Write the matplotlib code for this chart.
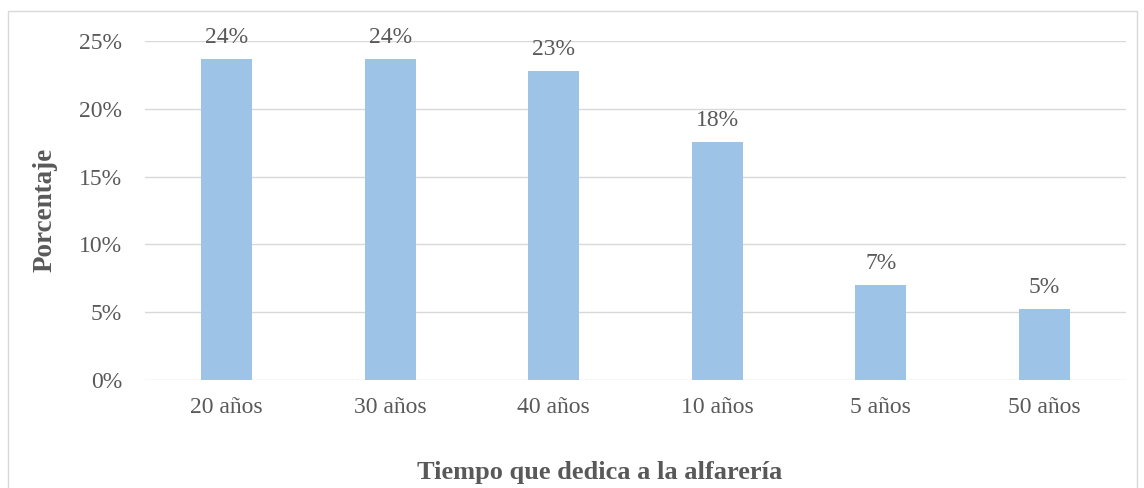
import matplotlib
matplotlib.use("Agg")
import matplotlib.pyplot as plt
from matplotlib.patches import Rectangle
from matplotlib.ticker import FuncFormatter

categories = ["20 años", "30 años", "40 años", "10 años", "5 años", "50 años"]
values = [0.2368, 0.2368, 0.2281, 0.1754, 0.0702, 0.0526]
labels = ["24%", "24%", "23%", "18%", "7%", "5%"]

plt.rcParams['font.family'] = ['Liberation Serif', 'DejaVu Serif']
txt = '#595959'

fig = plt.figure(figsize=(11.44, 4.88), dpi=100)
fig.patches.append(Rectangle((8/1144, -0.1), (1137-8)/1144, 1.1 - 11/488,
                             transform=fig.transFigure, fill=False,
                             edgecolor='#D9D9D9', linewidth=1.0))
ax = fig.add_axes([145/1144, (488-380)/488, (1126-145)/1144, (380-41)/488])
x = range(len(categories))
ax.bar(x, values, width=0.31, color='#9DC3E6', zorder=2)
ax.set_xlim(-0.5, len(categories) - 0.5)
ax.set_ylim(0, 0.25)
ax.set_yticks([0, 0.05, 0.10, 0.15, 0.20, 0.25])
ax.yaxis.set_major_formatter(FuncFormatter(lambda v, p: f"{v*100:.0f}%"))
ax.set_xticks(list(x))
ax.set_xticklabels(categories)
ax.grid(axis='y', color='#D9D9D9', linewidth=1.0, zorder=0)
for s in ax.spines.values():
    s.set_visible(False)
ax.tick_params(axis='both', length=0, labelsize=17, colors=txt)
ax.tick_params(axis='y', pad=16.5)
ax.tick_params(axis='x', pad=12.5)
for xi, v, lab in zip(x, values, labels):
    ax.annotate(lab, (xi, v), xytext=(0, 8), textcoords='offset points',
                ha='center', va='bottom', fontsize=17, color=txt)
fig.text(45/1144, (488-210)/488, "Porcentaje", rotation=90, ha='center', va='center',
         fontsize=19.5, fontweight='bold', color=txt)
fig.text(600/1144, (488-472)/488, "Tiempo que dedica a la alfarería", ha='center', va='center',
         fontsize=19, fontweight='bold', color=txt)
fig.savefig("out.png", dpi=100)
